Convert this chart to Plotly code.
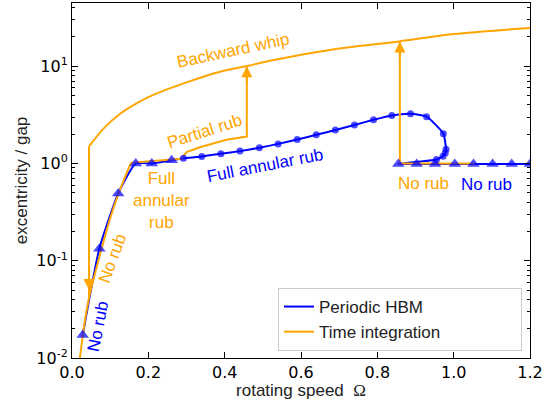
import numpy as np
import plotly.graph_objects as go

# ---------------- data ----------------
# Periodic HBM solution branch (path order)
hbm_omega = [0.028, 0.0716, 0.121, 0.167, 0.209, 0.261,
             0.292, 0.340, 0.390, 0.440, 0.491, 0.540, 0.590, 0.640, 0.690,
             0.740, 0.790, 0.838, 0.887, 0.929, 0.973, 0.980, 0.978, 0.972, 0.955,
             0.855, 0.903, 0.951, 1.003, 1.052, 1.102, 1.152, 1.200]
hbm_amp = [0.0172, 0.133, 0.49, 1.0, 1.0, 1.08,
           1.13, 1.18, 1.26, 1.34, 1.45, 1.59, 1.76, 1.97, 2.21,
           2.49, 2.81, 3.11, 3.24, 3.03, 2.02, 1.40, 1.28, 1.19, 1.10,
           0.99, 0.99, 0.99, 0.99, 0.99, 0.99, 0.99, 0.99]
hbm_kind = ["tri"] * 6 + ["dot"] * 19 + ["tri"] * 8

# Time integration, run-up: no rub branch
ti_norub_omega = [0.020, 0.034, 0.047, 0.073, 0.0996, 0.121, 0.1546]
ti_norub_amp = [0.0095, 0.0245, 0.046, 0.114, 0.27, 0.48, 1.02]
# run-up: full annular rub -> partial rub -> jump to whip
ti_rub_omega = [0.1546, 0.287, 0.300, 0.335, 0.405, 0.453, 0.458, 0.458]
ti_rub_amp = [1.02, 1.12, 1.31, 1.47, 1.75, 1.89, 1.89, 10.0]

# backward whip branch (run-down)
ti_whip_omega = [1.200, 1.000, 0.857, 0.700, 0.519, 0.462, 0.388, 0.300, 0.213,
                 0.169, 0.126, 0.082, 0.0445]
ti_whip_amp = [24.7, 21.4, 18.0, 15.2, 11.4, 10.1, 8.78, 6.82, 5.07,
               4.15, 3.24, 2.27, 1.5]
# drop from whip back to no rub
ti_drop_omega = [0.0445, 0.0445]
ti_drop_amp = [1.5, 0.042]

# second run-down sweep (no rub -> jump to whip)
ti_down_omega = [1.056, 0.859, 0.859]
ti_down_amp = [1.0, 1.0, 18.0]

# arrows marking jump directions
arrow_omega = [0.458, 0.859, 0.0445]
arrow_amp = [10.0, 18.0, 0.05]
arrow_dir = ["up", "up", "down"]

# labels: text, omega, amplitude(log10), angle, colour key
label_text = ["Backward whip", "Partial rub", "Full<br>annular<br>rub", "Full annular rub",
              "No rub", "No rub", "No rub", "No rub"]
label_omega = [0.422, 0.347, 0.2345, 0.506, 0.922, 1.085, 0.106, 0.0689]
label_logamp = [1.159, 0.328, -0.379, -0.02, -0.205, -0.215, -0.977, -1.679]
label_angle = [-12, -18, 0, -11, 0, 0, -70, -79]
label_color = ["ti", "ti", "ti", "hbm", "ti", "hbm", "ti", "hbm"]

legend_names = ["Periodic HBM", "Time integration"]

x_ticks = [0.0, 0.2, 0.4, 0.6, 0.8, 1.0, 1.2]
y_ticks = [0.01, 0.1, 1, 10]
y_ticktext = ["10<sup>-2</sup>", "10<sup>-1</sup>", "10<sup>0</sup>", "10<sup>1</sup>"]
y_minor_mantissa = [2, 3, 4, 5, 6, 7, 8, 9]
y_minor_ticks = [m * d for d in y_ticks for m in y_minor_mantissa]

# ---------------- styling ----------------
BLUE = "#0000ff"
ORANGE = "#ffa500"
colors = {"ti": ORANGE, "hbm": BLUE}
SANS = "Liberation Sans, Arial, sans-serif"
TICKFONT = "DejaVu Sans, sans-serif"
PAD = "\u00a0" * 16  # widen legend box like the reference

fig = go.Figure()

# blue line (under orange)
fig.add_trace(go.Scatter(x=hbm_omega, y=hbm_amp, mode="lines",
                         line=dict(color=BLUE, width=2, shape="spline", smoothing=0.5),
                         name=legend_names[0] + PAD))
# orange time integration lines
oline = dict(color=ORANGE, width=2)
fig.add_trace(go.Scatter(x=ti_norub_omega, y=ti_norub_amp, mode="lines",
                         line=dict(oline, shape="spline", smoothing=0.8),
                         name=legend_names[1] + PAD))
fig.add_trace(go.Scatter(x=ti_rub_omega, y=ti_rub_amp, mode="lines",
                         line=oline, showlegend=False))
fig.add_trace(go.Scatter(x=ti_whip_omega, y=ti_whip_amp, mode="lines",
                         line=dict(oline, shape="spline", smoothing=0.8), showlegend=False))
fig.add_trace(go.Scatter(x=ti_drop_omega, y=ti_drop_amp, mode="lines",
                         line=oline, showlegend=False))
fig.add_trace(go.Scatter(x=ti_down_omega, y=ti_down_amp, mode="lines",
                         line=oline, showlegend=False))
# blue markers on top
symbols = ["triangle-up" if k == "tri" else "circle" for k in hbm_kind]
sizes = [11 if k == "tri" else 7 for k in hbm_kind]
fig.add_trace(go.Scatter(x=hbm_omega, y=hbm_amp, mode="markers",
                         marker=dict(color=BLUE, symbol=symbols, size=sizes, line=dict(width=0)),
                         showlegend=False))

# arrows
for xo, ya, d in zip(arrow_omega, arrow_amp, arrow_dir):
    fig.add_annotation(x=xo, y=np.log10(ya), xref="x", yref="y", text="",
                       showarrow=True, arrowhead=2, arrowsize=1.1, arrowwidth=2,
                       arrowcolor=ORANGE, ax=0, ay=(18 if d == "up" else -18), standoff=0)

# text labels
for t, xo, ly, ang, c in zip(label_text, label_omega, label_logamp, label_angle, label_color):
    fig.add_annotation(x=xo, y=ly, xref="x", yref="y", text=t, showarrow=False,
                       textangle=ang, font=dict(family=SANS, size=17, color=colors[c]),
                       xanchor="center", yanchor="middle", align="center")

fig.update_layout(
    width=550, height=400,
    margin=dict(l=72, r=20, t=3, b=42),
    paper_bgcolor="white", plot_bgcolor="white",
    showlegend=True,
    legend=dict(x=0.9825, y=0.0197, xanchor="right", yanchor="bottom",
                bgcolor="white", bordercolor="#cccccc", borderwidth=1,
                font=dict(family=SANS, size=17, color="#222222"),
                tracegroupgap=0),
)

fig.update_xaxes(range=[0, 1.2], tickvals=x_ticks, tickformat=".1f", automargin=False,
                 showline=True, linecolor="black", linewidth=1, mirror="allticks",
                 ticks="inside", ticklen=6, tickcolor="black", showgrid=False, zeroline=False,
                 tickfont=dict(family=TICKFONT, size=16, color="black"),
                 title=dict(text="rotating speed\u00a0 <span style='font-family:Liberation Serif'>Ω</span>",
                            font=dict(family=SANS, size=17, color="#222222"), standoff=2))

fig.update_yaxes(type="log", range=[-2, 1.65], tickvals=y_ticks, ticktext=y_ticktext,
                 automargin=False,
                 showline=True, linecolor="black", linewidth=1, mirror="allticks",
                 ticks="inside", ticklen=6, tickcolor="black", showgrid=False, zeroline=False,
                 minor=dict(tickmode="array", tickvals=y_minor_ticks, ticks="inside",
                            ticklen=3, tickcolor="black", showgrid=False),
                 tickfont=dict(family=TICKFONT, size=16, color="black"),
                 title=dict(text="excentricity / gap",
                            font=dict(family=SANS, size=17, color="#222222"), standoff=4))

fig.write_html("out.html", config={"displayModeBar": False},
               post_script="document.body.style.margin='0';document.body.style.padding='0';")
